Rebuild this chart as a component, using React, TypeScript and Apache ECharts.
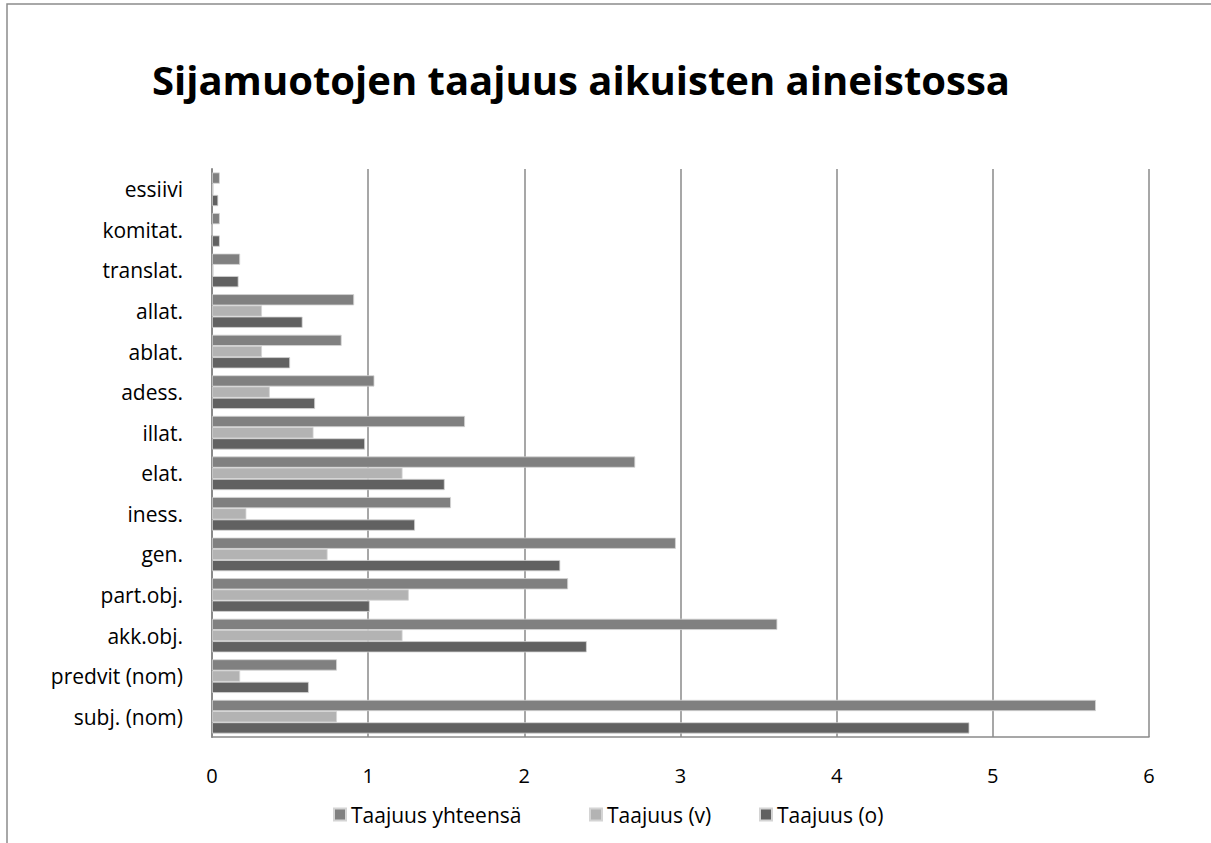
import React, { useEffect, useRef } from "react";
import * as echarts from "echarts";

// Case forms, bottom to top on the category axis
const categories = [
  "subj. (nom)",
  "predvit (nom)",
  "akk.obj.",
  "part.obj.",
  "gen.",
  "iness.",
  "elat.",
  "illat.",
  "adess.",
  "ablat.",
  "allat.",
  "translat.",
  "komitat.",
  "essiivi",
];

const seriesNames = ["Taajuus yhteensä", "Taajuus (v)", "Taajuus (o)"];

const totalValues = [5.66, 0.8, 3.62, 2.28, 2.97, 1.53, 2.71, 1.62, 1.04, 0.83, 0.91, 0.18, 0.05, 0.05];
const vValues = [0.8, 0.18, 1.22, 1.26, 0.74, 0.22, 1.22, 0.65, 0.37, 0.32, 0.32, 0.01, 0, 0.01];
const oValues = [4.85, 0.62, 2.4, 1.01, 2.23, 1.3, 1.49, 0.98, 0.66, 0.5, 0.58, 0.17, 0.05, 0.04];

const xTicks = [0, 1, 2, 3, 4, 5, 6];

const colors = ["#808080", "#b3b3b3", "#616161"];

// left edge of each legend box (the swatch sits 5px further right)
const legendLefts = [328, 584, 754];

const FONT = "'Open Sans', 'DejaVu Sans', sans-serif";

export default function App() {
  const ref = useRef<HTMLDivElement>(null);

  useEffect(() => {
    if (!ref.current) return;
    const chart = echarts.init(ref.current, null, { renderer: "svg" });
    const valuesBySeries = [totalValues, vValues, oValues];

    chart.setOption({
      animation: false,
      backgroundColor: "#ffffff",
      title: {
        text: "Sijamuotojen taajuus aikuisten aineistossa",
        left: 147,
        top: 54,
        textStyle: {
          fontFamily: FONT,
          fontWeight: "bold",
          fontSize: 40,
          color: "#000000",
        },
      },
      graphic: [
        {
          type: "rect",
          shape: { x: 7, y: 4, width: 1400, height: 1000 },
          style: { fill: "none", stroke: "#8c8c8c", lineWidth: 1.5 },
          silent: true,
        },
      ],
      legend: seriesNames.map((name, i) => ({
        data: [name],
        left: legendLefts[i],
        top: 799,
        icon: "rect",
        itemWidth: 12,
        itemHeight: 12,
        textStyle: { fontFamily: FONT, fontSize: 21, color: "#000000" },
      })),
      grid: {
        left: 212,
        right: 62,
        top: 169,
        bottom: 106,
        containLabel: false,
      },
      xAxis: {
        type: "value",
        min: xTicks[0],
        max: xTicks[xTicks.length - 1],
        interval: 1,
        axisLine: { show: true, lineStyle: { color: "#8a8a8a", width: 1.5 } },
        axisTick: { show: false },
        axisLabel: {
          fontFamily: FONT,
          fontSize: 20,
          color: "#000000",
          margin: 28,
        },
        splitLine: { show: true, lineStyle: { color: "#8a8a8a", width: 1.5 } },
      },
      yAxis: {
        type: "category",
        data: categories,
        axisLine: { show: true, lineStyle: { color: "#8a8a8a", width: 2 } },
        axisTick: { show: false },
        axisLabel: {
          fontFamily: FONT,
          fontSize: 21,
          color: "#000000",
          margin: 29,
        },
        splitLine: { show: false },
      },
      series: seriesNames.map((name, i) => ({
        name,
        type: "bar",
        data: valuesBySeries[i],
        barGap: "0%",
        barCategoryGap: "17%",
        itemStyle: {
          color: colors[i],
          borderColor: "#d4d4d4",
          borderWidth: 0.8,
        },
      })),
    });

    return () => chart.dispose();
  }, []);

  return (
    <div
      ref={ref}
      style={{ position: "absolute", left: 0, top: 0, width: 1211, height: 843 }}
    />
  );
}
